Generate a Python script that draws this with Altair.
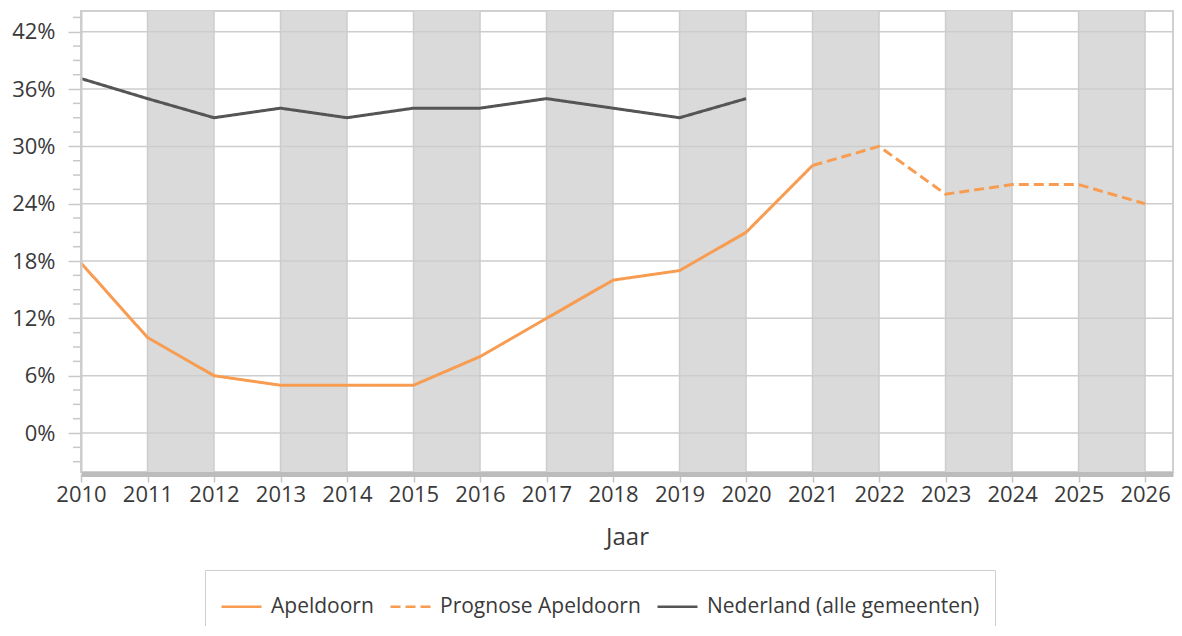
import altair as alt
import pandas as pd

# ---- data (percent) ----
years_apeldoorn = [2010, 2011, 2012, 2013, 2014, 2015, 2016, 2017, 2018, 2019, 2020, 2021]
apeldoorn = [17.8, 10, 6, 5, 5, 5, 8, 12, 16, 17, 21, 28]
years_prognose = [2021, 2022, 2023, 2024, 2025, 2026]
prognose = [28, 30, 25, 26, 26, 24]
years_nederland = [2010, 2011, 2012, 2013, 2014, 2015, 2016, 2017, 2018, 2019, 2020]
nederland = [37.1, 35, 33, 34, 33, 34, 34, 35, 34, 33, 35]

series_names = ["Apeldoorn", "Prognose Apeldoorn", "Nederland (alle gemeenten)"]
series_colors = ["#F79C50", "#F79C50", "#555555"]
series_dash = [[1, 0], [10, 5], [1, 0]]

band_start = [2011, 2013, 2015, 2017, 2019, 2021, 2023, 2025]
band_end = [2012, 2014, 2016, 2018, 2020, 2022, 2024, 2026]
x_ticks = list(range(2010, 2027))
y_major = [0, 6, 12, 18, 24, 30, 36, 42]
y_minor = [-3, -1.5, 1.5, 3, 4.5, 7.5, 9, 10.5, 13.5, 15, 16.5, 19.5, 21, 22.5,
           25.5, 27, 28.5, 31.5, 33, 34.5, 37.5, 39, 40.5, 43.5]

X_DOMAIN = [2010, 2026.42]
Y_DOMAIN = [-0.0408, 0.4417]

rows = []
for y, v in zip(years_apeldoorn, apeldoorn):
    rows.append({"Jaar": y, "waarde": v / 100, "reeks": series_names[0]})
for y, v in zip(years_prognose, prognose):
    rows.append({"Jaar": y, "waarde": v / 100, "reeks": series_names[1]})
for y, v in zip(years_nederland, nederland):
    rows.append({"Jaar": y, "waarde": v / 100, "reeks": series_names[2]})
lines_df = pd.DataFrame(rows)

bands_df = pd.DataFrame({"start": band_start, "end": band_end})
vgrid_df = pd.DataFrame({"x": x_ticks[1:]})
hgrid_df = pd.DataFrame({"y": [v / 100 for v in y_major]})
minor_df = pd.DataFrame({"y": [v / 100 for v in y_minor]})

FONT = "Open Sans"
TEXT = "#3a3a3a"
GRID = "#cdcdcd"

xscale = alt.Scale(domain=X_DOMAIN, nice=False, zero=False)
yscale = alt.Scale(domain=Y_DOMAIN, nice=False, zero=False)

x_axis = alt.Axis(
    values=x_ticks, format="d", grid=False, title="Jaar",
    domainColor="#bcbcbc", domainWidth=5, offset=2,
    tickColor="#c4c4c4", tickWidth=1.5, tickSize=8,
    labelFont=FONT, labelFontSize=22, labelColor=TEXT, labelPadding=2,
    labelFlush=False, labelOverlap=False,
    titleFont=FONT, titleFontSize=24, titleFontWeight="normal", titleColor=TEXT,
    titlePadding=20, zindex=1,
)
y_axis = alt.Axis(
    values=[v / 100 for v in y_major], format=".0%", grid=False, title=None,
    domainColor="#cccccc", domainWidth=2,
    tickColor="#c8c8c8", tickWidth=1.5, tickSize=13,
    labelFont=FONT, labelFontSize=22, labelColor=TEXT, labelPadding=13,
    labelOverlap=False, labelFlush=False, zindex=1,
)

bands = alt.Chart(bands_df).mark_rect(color="#dadada").encode(
    x=alt.X("start:Q", scale=xscale, axis=x_axis),
    x2="end:Q",
)

vgrid = alt.Chart(vgrid_df).mark_rule(color=GRID, strokeWidth=1.5).encode(
    x=alt.X("x:Q", scale=xscale, axis=x_axis),
)

hgrid = alt.Chart(hgrid_df).mark_rule(color=GRID, strokeWidth=1.5).encode(
    y=alt.Y("y:Q", scale=yscale, axis=y_axis),
)

minor_ticks = alt.Chart(minor_df).mark_rule(color="#c8c8c8", strokeWidth=1.5, clip=False).encode(
    y=alt.Y("y:Q", scale=yscale, axis=y_axis),
    x=alt.value(-8),
    x2=alt.value(0),
)

lines = alt.Chart(lines_df).mark_line(strokeWidth=3).encode(
    x=alt.X("Jaar:Q", scale=xscale, axis=x_axis),
    y=alt.Y("waarde:Q", scale=yscale, axis=y_axis),
    color=alt.Color("reeks:N", scale=alt.Scale(domain=series_names, range=series_colors),
                    legend=alt.Legend(title=None)),
    strokeDash=alt.StrokeDash("reeks:N", scale=alt.Scale(domain=series_names, range=series_dash),
                              legend=alt.Legend(title=None)),
    detail="reeks:N",
)

chart = alt.layer(bands, vgrid, hgrid, minor_ticks, lines).properties(
    width=1092, height=461,
    autosize=alt.AutoSizeParams(type="none"),
    padding={"left": 73, "top": 3, "right": 1, "bottom": 154},
).configure_view(
    stroke="#d0d0d0", strokeWidth=2,
).configure_legend(
    orient="none", legendX=124, legendY=559, direction="horizontal",
    strokeColor="#cfcfcf", padding=15, fillColor="white",
    symbolType="stroke", symbolSize=1600, symbolStrokeWidth=2.5,
    labelFont=FONT, labelFontSize=21, labelColor=TEXT, labelOffset=8,
    columnPadding=11, labelLimit=400,
)

chart.save("out.html", embed_options={"renderer": "svg", "actions": False})
